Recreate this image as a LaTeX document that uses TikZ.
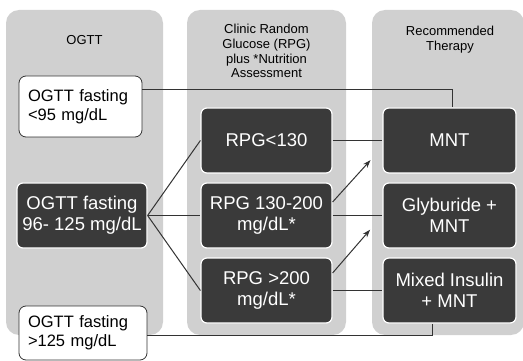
\documentclass[tikz,border=0pt]{standalone}
\usepackage{fontspec}
\setmainfont{Liberation Sans}
\usepackage{tikz}
\usetikzlibrary{arrows.meta,positioning}
\definecolor{panelgray}{RGB}{208,208,208}
\definecolor{boxdark}{RGB}{58,58,58}
\definecolor{linegray}{RGB}{51,51,51}

\begin{document}
\begin{tikzpicture}[x=1pt, y=-1pt,
    panel/.style={rounded corners=13pt, fill=panelgray, minimum height=325pt},
    title/.style={align=center, font=\fontsize{13}{14.8}\selectfont},
    darkbox/.style={draw=white, line width=1.2pt, rounded corners=6pt, fill=boxdark,
        text=white, align=center, minimum width=131pt, minimum height=65pt,
        font=\fontsize{18.5}{21}\selectfont},
    whitebox/.style={draw=linegray, line width=0.8pt, rounded corners=7pt, fill=white,
        align=left, inner xsep=9pt, font=\fontsize{16.5}{19}\selectfont},
    link/.style={draw=linegray, line width=1pt}]

    \useasboundingbox (0,0) rectangle (523,361);

    % ---- Panels ----
    \node[panel, minimum width=157pt] (p_ogtt) at (84.5, 172.5) {};
    \node[panel, minimum width=159pt] (p_rpg)  at (266.5, 172.5) {};
    \node[panel, minimum width=152pt] (p_ther) at (448, 172.5) {};

    \node[title] (t_ogtt) at (84.5, 40) {OGTT};
    \node[title] (t_rpg)  at (266.5, 51) {Clinic Random\\Glucose (RPG)\\plus *Nutrition\\Assessment};
    \node[title] (t_ther) at (450, 40) {Recommended\\Therapy};

    % ---- Column 1: OGTT ----
    \node[whitebox, text width=105pt, minimum height=61pt] (o_low) at (80.5, 106.5)
        {OGTT fasting\\<95 mg/dL};
    \node[darkbox, minimum width=130pt] (o_mid) at (82, 215.5)
        {OGTT fasting\\96- 125 mg/dL};
    \node[whitebox, text width=110pt, minimum height=54pt] (o_high) at (83, 333)
        {OGTT fasting\\>125 mg/dL};

    % ---- Column 2: RPG ----
    \node[darkbox] (r_low)  at (266.5, 140.5) {RPG<130};
    \node[darkbox] (r_mid)  at (266.5, 215.5) {RPG 130-200\\mg/dL*};
    \node[darkbox] (r_high) at (266.5, 290.5) {RPG >200\\mg/dL*};

    % ---- Column 3: therapy ----
    \node[darkbox, minimum width=133pt] (mnt) at (449.5, 140.5) {MNT};
    \node[darkbox, minimum width=133pt] (gly) at (449.5, 215.5) {Glyburide +\\MNT};
    \node[darkbox, minimum width=133pt] (mix) at (449.5, 290.5) {Mixed Insulin\\+ MNT};

    % ---- Connectors ----
    \draw[link] ([yshift=16.5pt]o_low.east) -| ([xshift=2.5pt]mnt.north);
    \draw[link] (o_mid.east) -- (r_low.west);
    \draw[link] (o_mid.east) -- (r_mid.west);
    \draw[link] (o_mid.east) -- (r_high.west);
    \draw[link] ([yshift=-2pt]o_high.east) -| ([xshift=-17.5pt]mix.south);

    \draw[link, line width=1.8pt] (r_low.east) -- (mnt.west);
    \draw[link] (r_mid.east) -- (gly.west);
    \draw[link] (r_high.east) -- (mix.west);

    \draw[link, -{Stealth[length=8pt,width=5.5pt]}, shorten >=17.7pt] ([yshift=13.5pt]r_mid.east) -- ([yshift=-6.5pt]mnt.west);
    \draw[link, -{Stealth[length=8pt,width=5.5pt]}, shorten >=18.8pt] ([yshift=17.5pt]r_high.east) -- (gly.west);

\end{tikzpicture}
\end{document}
